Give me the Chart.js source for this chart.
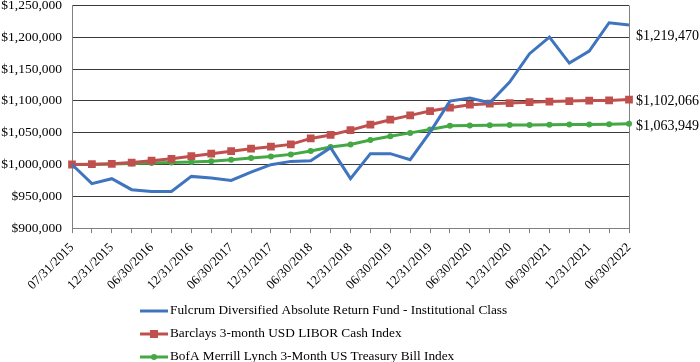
<!DOCTYPE html>
<html lang="en">
<head>
    <meta charset="UTF-8">
    <title>Growth of $1,000,000</title>
    <script src="https://cdn.jsdelivr.net/npm/chart.js"></script>
    <style>
        body {
            margin: 0;
            background: #ffffff;
        }
        .graph-container {
            width: 700px;
            height: 362px;
        }
    </style>
</head>
<body>
    <div class="graph-container">
        <canvas id="growthChart"></canvas>
    </div>

    <script>
        // quarter-end dates, 07/31/2015 .. 06/30/2022
        const dates = [
            "07/31/2015", "09/30/2015", "12/31/2015", "03/31/2016", "06/30/2016",
            "09/30/2016", "12/31/2016", "03/31/2017", "06/30/2017", "09/30/2017",
            "12/31/2017", "03/31/2018", "06/30/2018", "09/30/2018", "12/31/2018",
            "03/31/2019", "06/30/2019", "09/30/2019", "12/31/2019", "03/31/2020",
            "06/30/2020", "09/30/2020", "12/31/2020", "03/31/2021", "06/30/2021",
            "09/30/2021", "12/31/2021", "03/31/2022", "06/30/2022"
        ];

        const fundValues = [
            1000000, 969800, 977700, 960400, 957700, 957700, 981300, 978600, 975000, 988000,
            999700, 1004900, 1006000, 1026400, 977700, 1017000, 1017000, 1007500, 1050900, 1099700,
            1104400, 1097000, 1129600, 1174200, 1200300, 1159400, 1178300, 1222900, 1219470
        ];
        const liborValues = [
            1000000, 1000500, 1001000, 1003000, 1006000, 1009000, 1013000, 1017000, 1021000, 1024800,
            1028000, 1031600, 1041000, 1046500, 1054000, 1062600, 1070400, 1077200, 1084000, 1089300,
            1094000, 1095600, 1096500, 1098000, 1099000, 1099700, 1100500, 1100800, 1102066
        ];
        const tbillValues = [
            1000000, 1000000, 1000700, 1001700, 1002300, 1003300, 1004000, 1005000, 1007500, 1010100,
            1012700, 1015900, 1021100, 1027400, 1031600, 1038500, 1044500, 1049700, 1055000, 1061000,
            1061500, 1061700, 1062000, 1062200, 1062500, 1062700, 1063000, 1063300, 1063949
        ];

        const seriesNames = [
            "Fulcrum Diversified Absolute Return Fund - Institutional Class",
            "Barclays 3-month USD LIBOR Cash Index",
            "BofA Merrill Lynch 3-Month US Treasury Bill Index"
        ];
        const colors = ["#3f74bf", "#c0504d", "#44a845"];
        const endLabelShift = [11, 2, 3]; // nudge end labels like the original

        const serif = "'Liberation Serif', 'Times New Roman', serif";
        const money = v => "$" + Math.round(v).toLocaleString("en-US");

        // box border on the right side of the plot
        const frame = {
            id: "frame",
            beforeDatasetsDraw(chart) {
                const { ctx, chartArea: a } = chart;
                ctx.save();
                ctx.strokeStyle = "#808080";
                ctx.lineWidth = 1;
                ctx.beginPath();
                ctx.moveTo(a.right + 0.5, a.top);
                ctx.lineTo(a.right + 0.5, a.bottom);
                ctx.stroke();
                ctx.restore();
            }
        };

        // ending values printed to the right of the plot
        const endLabels = {
            id: "endLabels",
            afterDatasetsDraw(chart) {
                const { ctx, chartArea: a, scales } = chart;
                ctx.save();
                ctx.font = "14px " + serif;
                ctx.fillStyle = "#000";
                ctx.textBaseline = "middle";
                chart.data.datasets.forEach((ds, i) => {
                    const last = ds.data[ds.data.length - 1];
                    const y = scales.y.getPixelForValue(last) + endLabelShift[i];
                    ctx.fillText(money(last), a.right + 7, y);
                });
                ctx.restore();
            }
        };

        // vertical legend under the axis labels
        const columnLegend = {
            id: "columnLegend",
            afterDraw(chart) {
                const { ctx } = chart;
                const x0 = 140;
                ctx.save();
                ctx.font = "13.3px " + serif;
                ctx.textBaseline = "middle";
                chart.data.datasets.forEach((ds, i) => {
                    const y = chart.height - 51 + i * 23;
                    ctx.strokeStyle = colors[i];
                    ctx.lineWidth = 3;
                    ctx.beginPath();
                    ctx.moveTo(x0, y);
                    ctx.lineTo(x0 + 28, y);
                    ctx.stroke();
                    ctx.fillStyle = colors[i];
                    if (i === 1) ctx.fillRect(x0 + 10, y - 4, 8, 8);
                    if (i === 2) {
                        ctx.beginPath();
                        ctx.arc(x0 + 14, y, 3, 0, Math.PI * 2);
                        ctx.fill();
                    }
                    ctx.fillStyle = "#000";
                    ctx.fillText(seriesNames[i], x0 + 30, y);
                });
                ctx.restore();
            }
        };

        const ctx = document.getElementById("growthChart").getContext("2d");
        new Chart(ctx, {
            type: "line",
            data: {
                labels: dates,
                datasets: [
                    {
                        label: seriesNames[0],
                        data: fundValues,
                        borderColor: colors[0],
                        borderWidth: 3,
                        pointRadius: 0,
                        tension: 0
                    },
                    {
                        label: seriesNames[1],
                        data: liborValues,
                        borderColor: colors[1],
                        backgroundColor: colors[1],
                        borderWidth: 3,
                        pointStyle: "rect",
                        pointRadius: 5.5,
                        pointBorderWidth: 0,
                        tension: 0
                    },
                    {
                        label: seriesNames[2],
                        data: tbillValues,
                        borderColor: colors[2],
                        backgroundColor: colors[2],
                        borderWidth: 3,
                        pointRadius: 3,
                        pointBorderWidth: 0,
                        tension: 0
                    }
                ]
            },
            options: {
                responsive: true,
                maintainAspectRatio: false,
                animation: false,
                layout: { padding: { top: 5, right: 71, bottom: 62, left: 0 } },
                plugins: {
                    legend: { display: false },
                    tooltip: { enabled: false }
                },
                scales: {
                    x: {
                        offset: false,
                        afterFit: s => { s.paddingLeft = 0; s.paddingRight = 0; },
                        grid: {
                            drawOnChartArea: false,
                            drawTicks: true,
                            tickLength: 5,
                            color: "#808080"
                        },
                        border: { color: "#808080" },
                        ticks: {
                            autoSkip: false,
                            minRotation: 45,
                            maxRotation: 45,
                            padding: 7,
                            color: "#000",
                            font: { family: serif, size: 13 },
                            callback: (v, i) => (i % 2 === 0 ? dates[i] : "")
                        }
                    },
                    y: {
                        min: 900000,
                        max: 1250000,
                        afterFit: s => { s.width = 72; s.paddingTop = 0; s.paddingBottom = 0; },
                        grid: {
                            color: "#3a3a3a",
                            drawTicks: false
                        },
                        border: { color: "#808080" },
                        ticks: {
                            stepSize: 50000,
                            padding: 10,
                            color: "#000",
                            font: { family: serif, size: 13.5 },
                            callback: v => money(v)
                        }
                    }
                }
            },
            plugins: [frame, endLabels, columnLegend]
        });
    </script>
</body>
</html>
